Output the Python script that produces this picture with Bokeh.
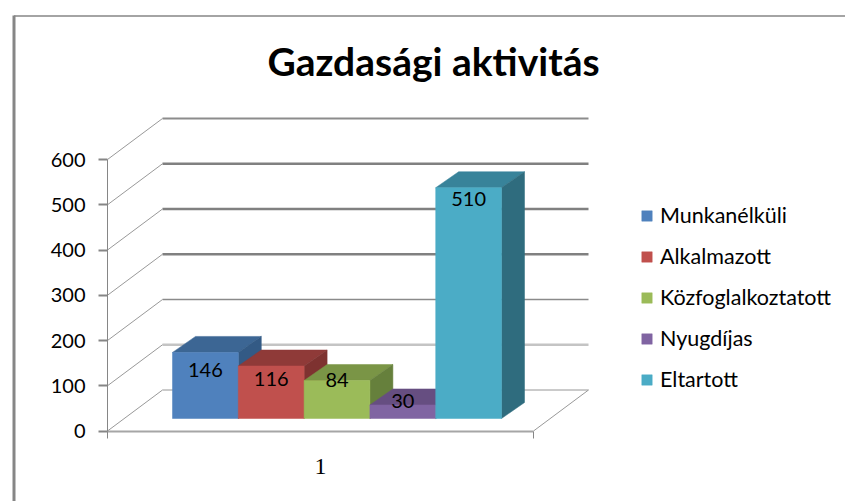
from bokeh.plotting import figure
from bokeh.embed import file_html
from bokeh.resources import INLINE
from bokeh.core.properties import value
from bokeh.models import (ColumnDataSource, FixedTicker, Legend, LegendItem,
                          LinearAxis, Range1d)

# ---- data ----
title = "Gazdasági aktivitás"
series = ["Munkanélküli", "Alkalmazott", "Közfoglalkoztatott", "Nyugdíjas", "Eltartott"]
values = [146, 116, 84, 30, 510]
y_ticks = [0, 100, 200, 300, 400, 500, 600]
category_label = "1"

# ---- styles ----
front = ["#4F81BD", "#C0504D", "#9BBB59", "#8064A2", "#4BACC6"]
top = ["#3C6694", "#8F3A38", "#7A9546", "#664E81", "#38839A"]
side = ["#335A85", "#7E3230", "#66803C", "#553F6E", "#2F6C7E"]
label_nudge = [18, 13, 0, -4, 11]  # px below the bar top
grid_width = [1, 2.5, 1.4, 2.5, 2.5, 2.5, 2]
grid_color = ["#969696", "#C4C4C4", "#8A8A8A", "#808080", "#808080", "#808080", "#8C8C8C"]
FONT = "Lato"
AXIS_GRAY = "#868686"

# ---- scales: data units per pixel ----
PX_W = 845
PX_H = 501
u = 65.8          # px per bar
k = 271.5 / 600   # px per value unit
x0_px, y0_px = 172, 430.5


def X(px):
    return (px - x0_px) / u


def Y(px):
    return (y0_px - px) / k


p = figure(width=PX_W, height=PX_H, output_backend="svg", toolbar_location=None,
           x_axis_type=None, y_axis_type=None,
           x_range=Range1d(X(0), X(PX_W)), y_range=Range1d(Y(PX_H), Y(0)),
           min_border=0, min_border_left=0, min_border_right=0,
           min_border_top=0, min_border_bottom=0, outline_line_color=None,
           background_fill_color="white", border_fill_color="white")
p.grid.visible = False

# chart border
p.line([X(13.5), X(13.5)], [Y(15), Y(PX_H)], line_color=AXIS_GRAY, line_width=3)
p.line([X(13.5), X(PX_W)], [Y(15.5), Y(15.5)], line_color=AXIS_GRAY, line_width=1.5)

# wall and floor geometry
x_lo, x_hi = X(107), X(533)
wall_dx = 55 / u
wall_dy = 41 / k
base = 12.5 / k
bar_dx = 23 / u
bar_dy = 16 / k

xs = [[x_lo + wall_dx, x_hi + wall_dx] for _ in y_ticks]
ys = [[t + wall_dy, t + wall_dy] for t in y_ticks]
p.multi_line(xs, ys, line_color=grid_color, line_width=grid_width)
p.multi_line([[x_lo, x_lo + wall_dx] for _ in y_ticks], [[t, t + wall_dy] for t in y_ticks],
             line_color="#999999", line_width=1)
p.line([x_hi, x_hi + wall_dx], [0, wall_dy], line_color="#999999", line_width=1)

# bars
items = []
for i, (name, v) in enumerate(zip(series, values)):
    l, r = float(i), float(i + 1)
    b, t = base, base + v
    p.patch([l, l + bar_dx, r + bar_dx, r], [t, t + bar_dy, t + bar_dy, t],
            fill_color=top[i], line_color=top[i], line_width=0.5)
    p.patch([r, r + bar_dx, r + bar_dx, r], [b, b + bar_dy, t + bar_dy, t],
            fill_color=side[i], line_color=side[i], line_width=0.5)
    q = p.quad(left=l, right=r, bottom=b, top=t, fill_color=front[i], line_color=front[i], line_width=0.5)
    items.append(LegendItem(label=name, renderers=[q]))

# data labels
src = ColumnDataSource(dict(x=[i + 0.5 for i in range(len(values))],
                            y=[base + v for v in values],
                            t=[str(v) for v in values],
                            dy=label_nudge))
p.text("x", "y", text="t", source=src, y_offset="dy", text_align="center",
       text_baseline="middle", text_font=value(FONT), text_font_size="20px", text_color="black")

# value axis
ya = LinearAxis(fixed_location=x_lo, bounds=(0, 600), ticker=FixedTicker(ticks=y_ticks),
                axis_line_color=AXIS_GRAY, axis_line_width=1,
                major_tick_line_color=AXIS_GRAY, major_tick_line_width=2,
                major_tick_in=0, major_tick_out=9, minor_tick_in=0, minor_tick_out=0,
                major_label_standoff=13, major_label_text_font=FONT,
                major_label_text_font_size="20px", major_label_text_color="black")
p.add_layout(ya, "left")

# category axis
center = (x_lo + x_hi) / 2
xa = LinearAxis(fixed_location=0, bounds=(x_lo, x_hi),
                ticker=FixedTicker(ticks=[center], minor_ticks=[x_lo, x_hi]),
                major_label_overrides={center: category_label},
                axis_line_color="#A6A6A6", axis_line_width=2,
                major_tick_in=0, major_tick_out=0, minor_tick_in=0, minor_tick_out=7,
                minor_tick_line_color=AXIS_GRAY, minor_tick_line_width=1,
                major_label_standoff=21, major_label_text_font="Liberation Serif",
                major_label_text_font_size="24px", major_label_text_color="black")
p.add_layout(xa, "below")

# title
p.text([X(433)], [Y(60)], text=[title], text_align="center", text_baseline="middle",
       text_font=value(FONT), text_font_style="bold", text_font_size="39px", text_color="black")

# legend
legend = Legend(items=items, location=(640, 109), orientation="vertical",
                background_fill_alpha=0, border_line_color=None,
                glyph_width=13, glyph_height=13, label_standoff=7, spacing=15,
                padding=0, margin=0, label_height=25,
                label_text_font=FONT, label_text_font_size="21.5px", label_text_color="black")
p.add_layout(legend, "center")

open("out.html", "w").write(file_html(p, INLINE))
